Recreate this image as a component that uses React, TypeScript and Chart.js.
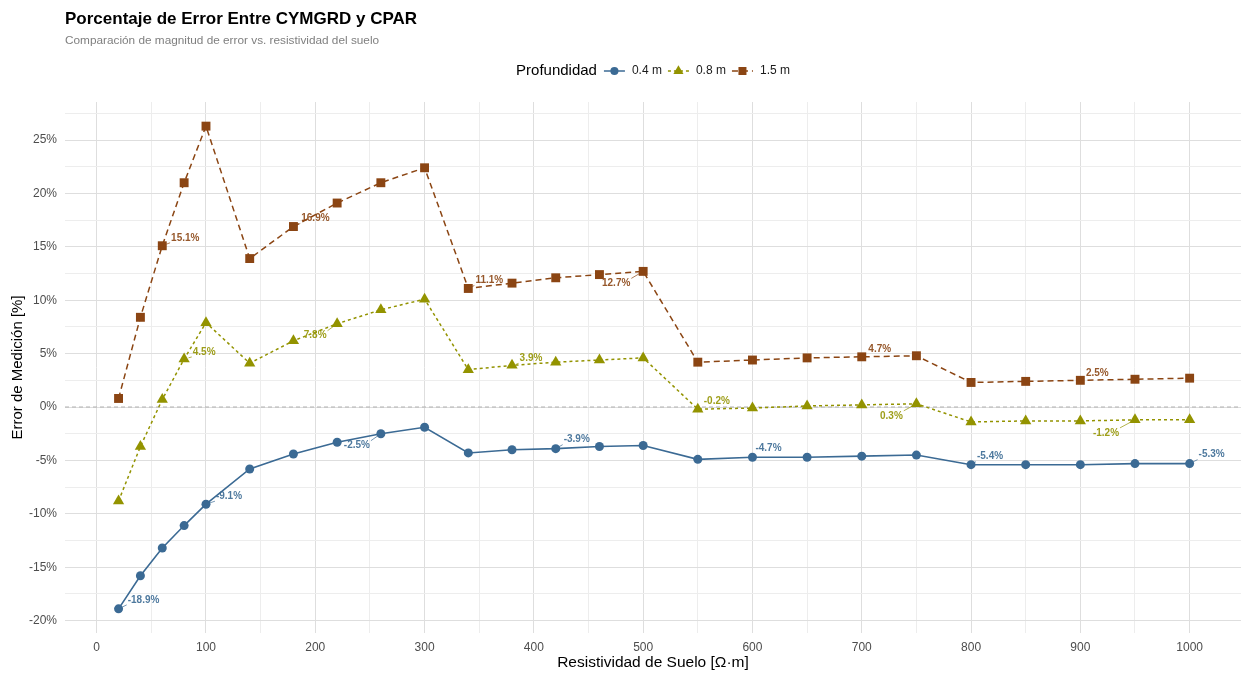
import { useEffect, useRef } from 'react';
import { Chart, registerables } from 'chart.js';

Chart.register(...registerables);

const FONT = '"Liberation Sans", Arial, Helvetica, sans-serif';

// ---------- data ----------
const resistivity = [20, 40, 60, 80, 100, 140, 180, 220, 260, 300, 340, 380, 420, 460, 500, 550, 600, 650, 700, 750, 800, 850, 900, 950, 1000];
const error04 = [-18.9, -15.8, -13.2, -11.1, -9.1, -5.8, -4.4, -3.3, -2.5, -1.9, -4.3, -4.0, -3.9, -3.7, -3.6, -4.9, -4.7, -4.7, -4.6, -4.5, -5.4, -5.4, -5.4, -5.3, -5.3];
const error08 = [-8.8, -3.7, 0.7, 4.5, 7.9, 4.1, 6.2, 7.8, 9.1, 10.1, 3.5, 3.9, 4.2, 4.4, 4.6, -0.2, -0.1, 0.1, 0.2, 0.3, -1.4, -1.3, -1.3, -1.2, -1.2];
const error15 = [0.8, 8.4, 15.1, 21.0, 26.3, 13.9, 16.9, 19.1, 21.0, 22.4, 11.1, 11.6, 12.1, 12.4, 12.7, 4.2, 4.4, 4.6, 4.7, 4.8, 2.3, 2.4, 2.5, 2.6, 2.7];
const depthNames = ['0.4 m', '0.8 m', '1.5 m'];
const labelIdx04 = [0, 4, 8, 12, 16, 20, 24];
const labelIdx08 = [3, 7, 11, 15, 19, 23];
const labelIdx15 = [2, 6, 10, 14, 18, 22];
const xTickValues = [0, 50, 100, 150, 200, 250, 300, 350, 400, 450, 500, 550, 600, 650, 700, 750, 800, 850, 900, 950, 1000];
const yTickValues = [-20, -17.5, -15, -12.5, -10, -7.5, -5, -2.5, 0, 2.5, 5, 7.5, 10, 12.5, 15, 17.5, 20, 22.5, 25, 27.5];

const titleText = 'Porcentaje de Error Entre CYMGRD y CPAR';
const subtitleText = 'Comparación de magnitud de error vs. resistividad del suelo';
const legendTitle = 'Profundidad';
const xTitle = 'Resistividad de Suelo [Ω·m]';
const yTitle = 'Error de Medición [%]';

// ---------- styles ----------
const COLORS = ['#3B6A94', '#939300', '#8B4513'];
const DASHES = [[], [3, 3], [6, 4]];
const POINT_STYLES = ['circle', 'triangle', 'rect'];
const POINT_RADII = [4.5, 6.5, 6.3];
const LABEL_OFFSETS = [
  [[25, -9], [23, -8], [-24, 12], [21, -9], [16, -9], [19, -8], [22, -9]],
  [[20, -7], [-22, 12], [19, -7], [19, -8], [-25, 12], [-29, 13]],
  [[23, -8], [22, -8], [21, -8], [-27, 12], [18, -8], [17, -7]],
];
const MAJOR = '#dedede';
const MINOR = '#ededed';

const seriesValues = [error04, error08, error15];
const seriesLabelIdx = [labelIdx04, labelIdx08, labelIdx15];

function drawMarker(ctx: CanvasRenderingContext2D, style: string, x: number, y: number, r: number, color: string) {
  ctx.save();
  ctx.fillStyle = color;
  ctx.beginPath();
  if (style === 'circle') {
    ctx.arc(x, y, r, 0, Math.PI * 2);
  } else if (style === 'triangle') {
    for (let i = 0; i < 3; i++) {
      const a = (i * 2 * Math.PI) / 3;
      const px = x + Math.sin(a) * r;
      const py = y - Math.cos(a) * r;
      if (i === 0) ctx.moveTo(px, py);
      else ctx.lineTo(px, py);
    }
    ctx.closePath();
  } else {
    const s = Math.SQRT1_2 * r;
    ctx.rect(x - s, y - s, 2 * s, 2 * s);
  }
  ctx.fill();
  ctx.restore();
}

const decorPlugin = {
  id: 'decor',
  beforeDatasetsDraw(chart: any) {
    const { ctx, chartArea, scales } = chart;
    const y0 = scales.y.getPixelForValue(0);
    ctx.save();
    ctx.strokeStyle = '#b0b0b0';
    ctx.lineWidth = 1;
    ctx.setLineDash([4, 3]);
    ctx.beginPath();
    ctx.moveTo(chartArea.left, y0);
    ctx.lineTo(chartArea.right, y0);
    ctx.stroke();
    ctx.restore();
  },
  afterDatasetsDraw(chart: any) {
    const { ctx } = chart;
    ctx.save();
    ctx.font = `bold 10px ${FONT}`;
    ctx.textAlign = 'center';
    ctx.textBaseline = 'middle';
    seriesValues.forEach((vals, s) => {
      const meta = chart.getDatasetMeta(s);
      seriesLabelIdx[s].forEach((idx, k) => {
        const pt = meta.data[idx];
        const [dx, dy] = LABEL_OFFSETS[s][k];
        const cx = pt.x + dx;
        const cy = pt.y + dy;
        const text = `${vals[idx].toFixed(1)}%`;
        const w = ctx.measureText(text).width + 2;
        const h = 10;
        const nx = Math.max(cx - w / 2, Math.min(pt.x, cx + w / 2));
        const ny = Math.max(cy - h / 2, Math.min(pt.y, cy + h / 2));
        const dist = Math.hypot(nx - pt.x, ny - pt.y);
        const r = POINT_RADII[s] * 0.7;
        if (dist > r + 2) {
          const ux = (nx - pt.x) / dist;
          const uy = (ny - pt.y) / dist;
          ctx.strokeStyle = COLORS[s];
          ctx.lineWidth = 0.7;
          ctx.beginPath();
          ctx.moveTo(pt.x + ux * r, pt.y + uy * r);
          ctx.lineTo(nx, ny);
          ctx.stroke();
        }
        ctx.fillStyle = COLORS[s];
        ctx.globalAlpha = 0.9;
        ctx.fillText(text, cx, cy);
        ctx.globalAlpha = 1;
      });
    });
    ctx.restore();
  },
  afterDraw(chart: any) {
    const { ctx, chartArea } = chart;
    ctx.save();
    ctx.textAlign = 'left';
    ctx.textBaseline = 'alphabetic';
    ctx.fillStyle = '#000000';
    ctx.font = `bold 17px ${FONT}`;
    ctx.fillText(titleText, chartArea.left, 24);
    ctx.fillStyle = '#7f7f7f';
    ctx.font = `11.8px ${FONT}`;
    ctx.fillText(subtitleText, chartArea.left, 44);

    // legend
    const ly = 71;
    ctx.font = `15px ${FONT}`;
    const tW = ctx.measureText(legendTitle).width;
    ctx.font = `12px ${FONT}`;
    const itemW = depthNames.map((n) => ctx.measureText(n).width);
    const keyW = 21;
    const gapTitle = 7;
    const gapKeyText = 7;
    const gapItems = 6;
    let total = tW + gapTitle;
    itemW.forEach((w, i) => {
      total += keyW + gapKeyText + w + (i < itemW.length - 1 ? gapItems : 0);
    });
    let x = (chartArea.left + chartArea.right) / 2 - total / 2;
    ctx.fillStyle = '#000000';
    ctx.font = `15px ${FONT}`;
    ctx.textBaseline = 'middle';
    ctx.fillText(legendTitle, x, ly);
    x += tW + gapTitle;
    ctx.font = `12px ${FONT}`;
    depthNames.forEach((name, i) => {
      ctx.save();
      ctx.strokeStyle = COLORS[i];
      ctx.lineWidth = 1.5;
      ctx.setLineDash(DASHES[i]);
      ctx.beginPath();
      ctx.moveTo(x, ly);
      ctx.lineTo(x + keyW, ly);
      ctx.stroke();
      ctx.restore();
      drawMarker(ctx, POINT_STYLES[i], x + keyW / 2, ly, POINT_RADII[i] * 0.9, COLORS[i]);
      x += keyW + gapKeyText;
      ctx.fillStyle = '#1a1a1a';
      ctx.fillText(name, x, ly);
      x += itemW[i] + gapItems;
    });
    ctx.restore();
  },
};

export default function App() {
  const canvasRef = useRef<HTMLCanvasElement | null>(null);

  useEffect(() => {
    if (!canvasRef.current) return;
    const datasets = seriesValues.map((vals, s) => ({
      label: depthNames[s],
      data: resistivity.map((x, i) => ({ x, y: vals[i] })),
      borderColor: COLORS[s],
      backgroundColor: COLORS[s],
      borderWidth: s === 0 ? 1.6 : 1.5,
      borderDash: DASHES[s],
      pointStyle: POINT_STYLES[s],
      pointRadius: POINT_RADII[s],
      pointBackgroundColor: COLORS[s],
      pointBorderColor: COLORS[s],
      pointBorderWidth: 0,
      tension: 0,
      fill: false,
    }));
    const chart = new Chart(canvasRef.current, {
      type: 'line',
      data: { datasets },
      options: {
        animation: false,
        responsive: false,
        devicePixelRatio: 1,
        layout: { autoPadding: false, padding: { top: 102, left: 0, right: 0, bottom: 0 } },
        plugins: {
          legend: { display: false },
          title: { display: false },
          tooltip: { enabled: false },
        },
        scales: {
          x: {
            type: 'linear',
            min: -29,
            max: 1047,
            afterBuildTicks: (s: any) => {
              s.ticks = xTickValues.map((v) => ({ value: v }));
            },
            afterFit: (s: any) => {
              s.height = 42;
              s.paddingLeft = 0;
              s.paddingRight = 0;
            },
            grid: {
              color: (c: any) => (c.tick && c.tick.value % 100 === 0 ? MAJOR : MINOR),
              lineWidth: 1,
              drawTicks: false,
            },
            border: { display: false },
            ticks: {
              padding: 7,
              color: '#4d4d4d',
              font: { family: FONT, size: 12 },
              maxRotation: 0,
              autoSkip: false,
              callback: (v: any) => (Number(v) % 100 === 0 ? String(v) : ''),
            },
            title: {
              display: true,
              text: xTitle,
              color: '#000000',
              font: { family: FONT, size: 15.5 },
              padding: { top: 0, bottom: 3 },
            },
          },
          y: {
            type: 'linear',
            min: -21.16,
            max: 28.56,
            afterBuildTicks: (s: any) => {
              s.ticks = yTickValues.map((v) => ({ value: v }));
            },
            afterFit: (s: any) => {
              s.width = 65;
              s.paddingTop = 0;
              s.paddingBottom = 0;
            },
            grid: {
              color: (c: any) => (c.tick && c.tick.value % 5 === 0 ? MAJOR : MINOR),
              lineWidth: 1,
              drawTicks: false,
            },
            border: { display: false },
            ticks: {
              padding: 8,
              color: '#4d4d4d',
              font: { family: FONT, size: 12 },
              autoSkip: false,
              callback: (v: any) => (Number(v) % 5 === 0 ? `${v}%` : ''),
            },
            title: {
              display: true,
              text: yTitle,
              color: '#000000',
              font: { family: FONT, size: 15 },
              padding: { top: 9, bottom: 0 },
            },
          },
        },
      },
      plugins: [decorPlugin],
    } as any);
    return () => chart.destroy();
  }, []);

  return (
    <div style={{ position: 'absolute', left: 0, top: 0, width: 1241, height: 675, background: '#ffffff' }}>
      <canvas ref={canvasRef} width={1241} height={675} style={{ display: 'block' }} />
    </div>
  );
}
